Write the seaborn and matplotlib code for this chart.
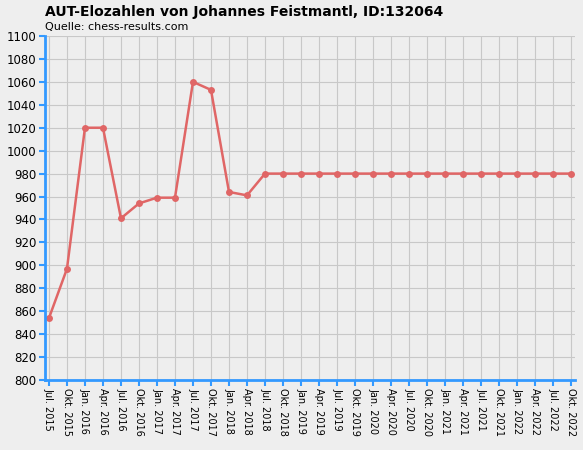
import matplotlib
matplotlib.use("Agg")
import matplotlib.pyplot as plt
import seaborn as sns
import pandas as pd

labels = ["Jul. 2015","Okt. 2015"]
for y in range(2016, 2023):
    labels += [f"Jan. {y}", f"Apr. {y}", f"Jul. {y}", f"Okt. {y}"]
labels = labels[:30]
elo = [854, 897, 1020, 1020, 941, 954, 959, 959, 1060, 1053, 964, 961] + [980]*18

df = pd.DataFrame({"x": range(len(labels)), "elo": elo})

sns.set_style("whitegrid")
plt.rcParams.update({
    'font.family': ['DejaVu Sans'],
    'xtick.bottom': True, 'ytick.left': True,
    'xtick.major.size': 4, 'ytick.major.size': 4,
    'xtick.major.width': 1.5, 'ytick.major.width': 1.5,
    'xtick.color': '#3399FF', 'ytick.color': '#3399FF',
    'xtick.labelcolor': 'black', 'ytick.labelcolor': 'black',
    'text.color': 'black',
})
fig = plt.figure(figsize=(5.83, 4.5), dpi=100, facecolor="#EEEEEE")
ax = fig.add_axes([45/583, 70/450, 530/583, 344/450])
ax.set_facecolor("#EEEEEE")
sns.lineplot(data=df, x="x", y="elo", ax=ax, color="#E06666", marker="o",
             markersize=5, markeredgewidth=0, linewidth=1.8)
ax.set_xlim(-0.22, 29.22)
ax.set_ylim(800, 1100)
ax.set_yticks(range(800, 1101, 20))
ax.set_xticks(range(len(labels)))
ax.set_xticklabels(labels, rotation=-90, fontsize=7)
ax.tick_params(axis="y", labelsize=8.5, pad=2)
ax.tick_params(axis="x", pad=2)
ax.grid(True, color="#C8C8C8", linewidth=0.8)
for s in ["top", "right"]:
    ax.spines[s].set_visible(False)
for s in ["left", "bottom"]:
    ax.spines[s].set_color("#3399FF")
    ax.spines[s].set_linewidth(2)
ax.set_xlabel("")
ax.set_ylabel("")
fig.text(45/583, 1-12/450, "AUT-Elozahlen von Johannes Feistmantl, ID:132064",
         fontsize=10, fontweight="bold", va="center")
fig.text(45/583, 1-27/450, "Quelle: chess-results.com", fontsize=8, va="center")
fig.savefig("out.png", dpi=100, facecolor="#EEEEEE")
